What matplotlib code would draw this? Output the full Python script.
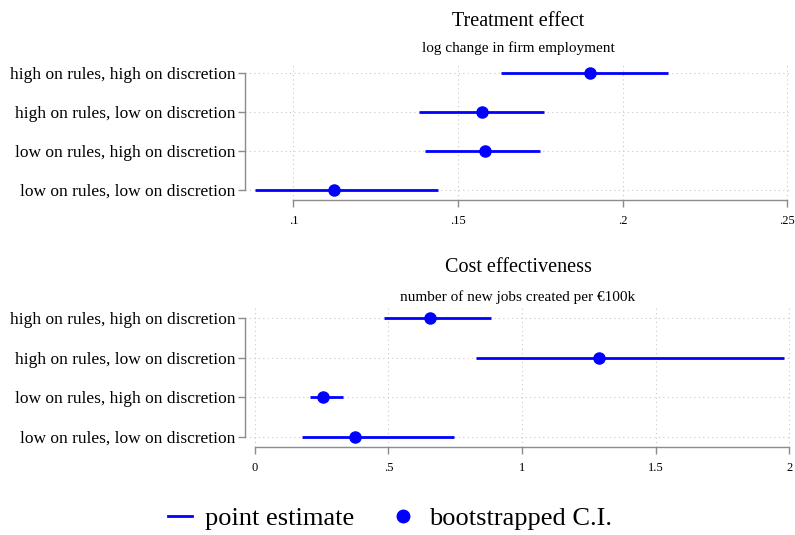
import matplotlib
matplotlib.use("Agg")
import matplotlib.pyplot as plt
from matplotlib.lines import Line2D

plt.rcParams['font.family'] = ['Liberation Serif', 'DejaVu Serif']

# categories (top to bottom)
groups = ["high on rules, high on discretion",
          "high on rules, low on discretion",
          "low on rules, high on discretion",
          "low on rules, low on discretion"]

# treatment effect: log change in firm employment
te_est = [0.1902, 0.1573, 0.1581, 0.1124]
te_lo = [0.1632, 0.1383, 0.1401, 0.0882]
te_hi = [0.2139, 0.1760, 0.1750, 0.1440]
te_ticks = [0.10, 0.15, 0.20, 0.25]
te_ticklabels = [".1", ".15", ".2", ".25"]

# cost effectiveness: jobs per 100k euro
ce_est = [0.654, 1.286, 0.256, 0.375]
ce_lo = [0.483, 0.829, 0.207, 0.175]
ce_hi = [0.883, 1.980, 0.331, 0.746]
ce_ticks = [0, 0.5, 1, 1.5, 2]
ce_ticklabels = ["0", ".5", "1", "1.5", "2"]

BLUE = "#0000ff"
GRAY = "#8c8c8c"

fig = plt.figure(figsize=(7.95, 5.35), dpi=100)
ax1 = fig.add_axes([245 / 795, 1 - 200 / 535, 547 / 795, 137 / 535])
ax2 = fig.add_axes([245 / 795, 1 - 447 / 535, 547 / 795, 139 / 535])


def draw_panel(ax, est, lo, hi, ticks, ticklabels, xlim, title, subtitle, ytitle, ysub):
    ypos = list(range(len(groups)))
    for y, a, b in zip(ypos, lo, hi):
        ax.plot([a, b], [y, y], color=BLUE, lw=2.0, solid_capstyle="butt", zorder=3)
    ax.plot(est, ypos, "o", color=BLUE, ms=8, zorder=4)
    ax.set_ylim(3.26, -0.26)
    ax.set_xlim(*xlim)
    ax.set_yticks(ypos)
    ax.set_yticklabels(groups, fontsize=12.5)
    ax.set_xticks(ticks)
    ax.set_xticklabels(ticklabels, fontsize=9)
    for s in ["top", "right"]:
        ax.spines[s].set_visible(False)
    ax.spines["left"].set_bounds(0, 3)
    ax.spines["bottom"].set_bounds(ticks[0], ticks[-1])
    for s in ["left", "bottom"]:
        ax.spines[s].set_color(GRAY)
        ax.spines[s].set_linewidth(1.0)
    ax.tick_params(axis="both", color=GRAY, length=5, width=1.0, pad=2)
    ax.tick_params(axis="x", pad=6)
    ax.grid(True, linestyle=(0, (1, 3)), color="#c8c8c8", lw=0.8)
    ax.set_axisbelow(True)
    fig.text(518 / 795, 1 - ytitle / 535, title, ha="center", va="center", fontsize=14.5)
    fig.text(518 / 795, 1 - ysub / 535, subtitle, ha="center", va="center", fontsize=11)


draw_panel(ax1, te_est, te_lo, te_hi, te_ticks, te_ticklabels, (0.0853, 0.2515),
           "Treatment effect", "log change in firm employment", 22, 48)
draw_panel(ax2, ce_est, ce_lo, ce_hi, ce_ticks, ce_ticklabels, (-0.037, 2.01),
           "Cost effectiveness", "number of new jobs created per \u20ac100k", 268, 297)

handles = [Line2D([], [], color=BLUE, lw=2),
           Line2D([], [], color=BLUE, marker="o", ls="none", ms=9)]
fig.legend(handles, ["point estimate", "bootstrapped C.I."], loc="center",
           bbox_to_anchor=(390 / 795, 1 - 518 / 535), ncol=2, frameon=False,
           fontsize=19, handlelength=0.9, handletextpad=0.5, columnspacing=1.4)

fig.savefig("out.png", dpi=100)
